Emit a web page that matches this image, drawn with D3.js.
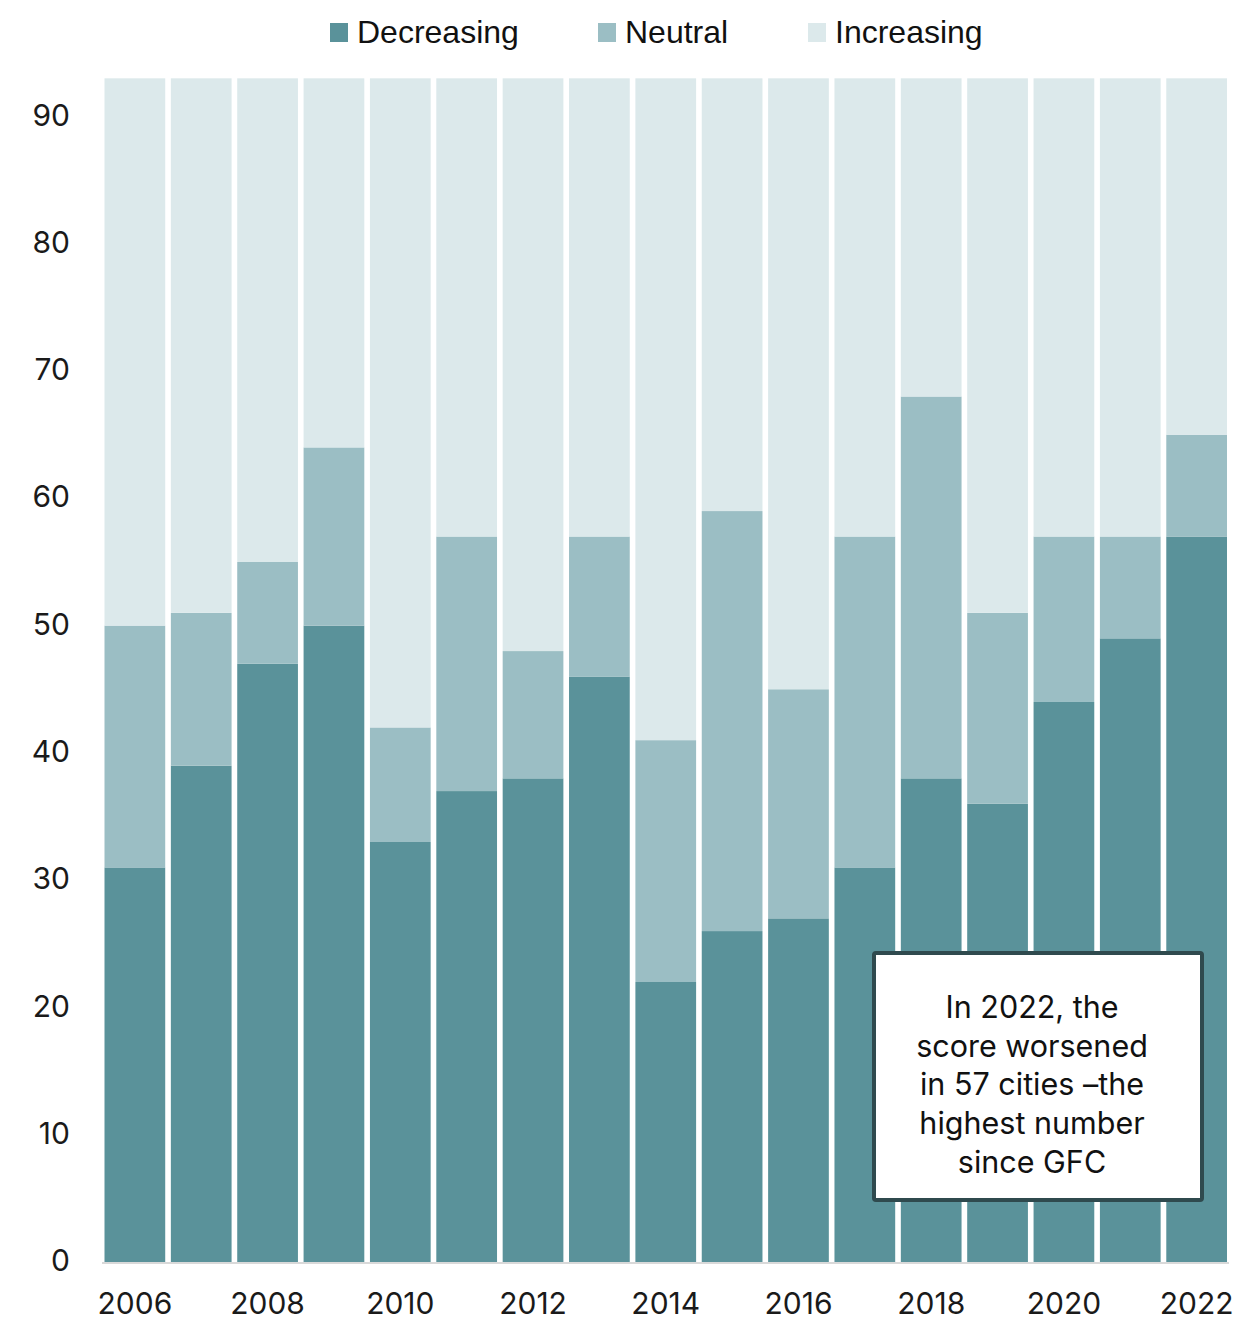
<!DOCTYPE html>
<html>
<head>
<meta charset="utf-8">
<title>Stacked bars</title>
<script src="https://d3js.org/d3.v7.min.js"></script>
<style>
  body { margin: 0; background: #fff; }
  svg { display: block; }
</style>
</head>
<body>
<svg width="1237" height="1320"></svg>
<script>
// data (number of cities per year)
var years = ["2006","2007","2008","2009","2010","2011","2012","2013","2014","2015","2016","2017","2018","2019","2020","2021","2022"];
var decreasing = [31, 39, 47, 50, 33, 37, 38, 46, 22, 26, 27, 31, 38, 36, 44, 49, 57];
var neutral    = [19, 12,  8, 14,  9, 20, 10, 11, 19, 33, 18, 26, 30, 15, 13,  8,  8];
var increasing = [43, 42, 38, 29, 51, 36, 45, 36, 52, 34, 48, 36, 25, 42, 36, 36, 28];
var seriesNames = ["Decreasing", "Neutral", "Increasing"];
var yTicks = [0, 10, 20, 30, 40, 50, 60, 70, 80, 90];
var noteLines = ["In 2022, the", "score worsened", "in 57 cities \u2013the", "highest number", "since GFC"];

var colors = { Decreasing: "#5a929a", Neutral: "#9bbec4", Increasing: "#dce9eb" };

var rows = years.map(function(y, i) {
  return { year: y, Decreasing: decreasing[i], Neutral: neutral[i], Increasing: increasing[i] };
});

var svg = d3.select("svg");
var font = "Inter, 'DejaVu Sans', sans-serif";

var x = d3.scaleBand()
  .domain(years)
  .range([104.5, 1227])
  .paddingInner(0.085)
  .paddingOuter(0);

var y = d3.scaleLinear()
  .domain([0, 90])
  .range([1262, 116.5]);

var stack = d3.stack().keys(seriesNames);
var layers = stack(rows);

svg.append("g")
  .selectAll("g")
  .data(layers)
  .enter().append("g")
    .attr("fill", function(d) { return colors[d.key]; })
  .selectAll("rect")
  .data(function(d) { return d; })
  .enter().append("rect")
    .attr("x", function(d) { return x(d.data.year); })
    .attr("y", function(d) { return y(d[1]); })
    .attr("height", function(d) { return y(d[0]) - y(d[1]); })
    .attr("width", x.bandwidth());

// baseline
svg.append("line")
  .attr("x1", 102).attr("x2", 1229)
  .attr("y1", y(0) + 1).attr("y2", y(0) + 1)
  .attr("stroke", "#d9d9d9")
  .attr("stroke-width", 2);

// y axis labels
var yAxis = d3.axisLeft(y).tickValues(yTicks).tickSize(0).tickPadding(0);
var yg = svg.append("g")
  .attr("transform", "translate(70,-1)")
  .call(yAxis);
yg.select(".domain").remove();
yg.selectAll("text")
  .attr("font-family", font)
  .attr("font-size", 30)
  .attr("fill", "#1a1a1a");

// x axis labels (every other year)
var xAxis = d3.axisBottom(x)
  .tickValues(years.filter(function(d, i) { return i % 2 === 0; }))
  .tickSize(0).tickPadding(0);
var xg = svg.append("g")
  .attr("transform", "translate(0,1293)")
  .call(xAxis);
xg.select(".domain").remove();
xg.selectAll("text")
  .attr("font-family", font)
  .attr("font-size", 30)
  .attr("fill", "#1a1a1a");

// legend
var legendX = [330, 598, 808];
var legend = svg.append("g")
  .selectAll("g")
  .data(seriesNames)
  .enter().append("g")
    .attr("transform", function(d, i) { return "translate(" + legendX[i] + ",0)"; });
legend.append("rect")
  .attr("x", 0).attr("y", 23)
  .attr("width", 18).attr("height", 19)
  .attr("fill", function(d) { return colors[d]; });
legend.append("text")
  .attr("x", 27).attr("y", 43)
  .attr("font-family", "'Liberation Sans Narrow', 'Arial Narrow', sans-serif")
  .attr("font-size", 32)
  .attr("fill", "#111")
  .text(function(d) { return d; });

// annotation box
var note = svg.append("g");
note.append("rect")
  .attr("x", 874).attr("y", 953)
  .attr("width", 328).attr("height", 247)
  .attr("rx", 2)
  .attr("fill", "#fff")
  .attr("stroke", "#2f4a4e")
  .attr("stroke-width", 4);
note.append("text")
  .attr("font-family", font)
  .attr("font-size", 30.5)
  .attr("fill", "#111")
  .attr("text-anchor", "middle")
  .selectAll("tspan")
  .data(noteLines)
  .enter().append("tspan")
    .attr("x", 1032)
    .attr("y", function(d, i) { return 1018 + i * 38.7; })
    .text(function(d) { return d; });
</script>
</body>
</html>
